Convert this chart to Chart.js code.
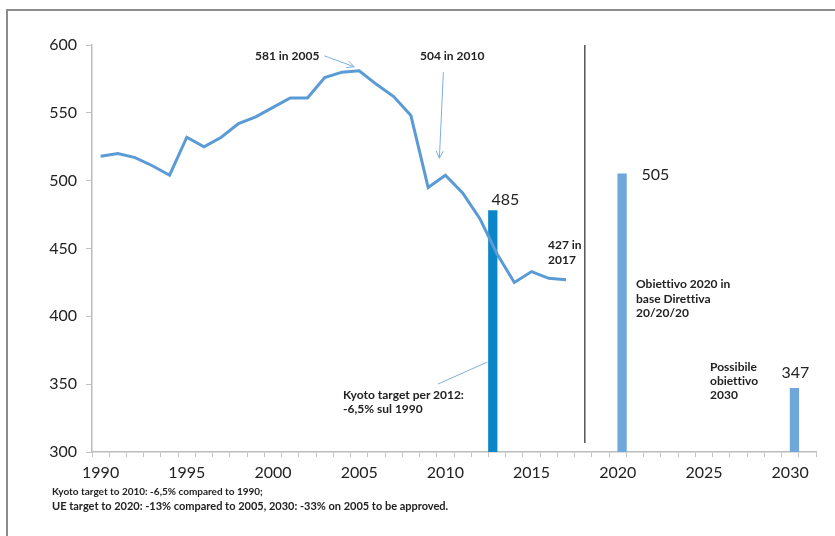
<!DOCTYPE html>
<html>
<head>
<meta charset="utf-8">
<script src="https://cdn.jsdelivr.net/npm/chart.js@4.4.0/dist/chart.umd.min.js"></script>
<style>
  body { margin: 0; background: #fff; }
  #wrap { position: relative; width: 835px; height: 536px; overflow: hidden; font-family: Lato, sans-serif; font-variant-ligatures: none; }
  #frame { position: absolute; left: 6px; top: 9px; width: 900px; height: 600px; border-left: 2px solid #8c8c8c; border-top: 2px solid #8c8c8c; }
  canvas { position: absolute; left: 0; top: 0; }
  .note { position: absolute; font-size: 12px; font-weight: 700; color: #222; line-height: 14.5px; white-space: nowrap; }
  .val { position: absolute; font-size: 16px; color: #222; line-height: 18px; white-space: nowrap; }
  #foot { position: absolute; left: 52px; top: 485px; font-size: 10px; font-weight: 700; color: #222; line-height: 13.7px; white-space: nowrap; }
  #foot span { font-size: 11px; }
</style>
</head>
<body>
<div id="wrap">
  <div id="frame"></div>
  <canvas id="chart" width="835" height="536"></canvas>
  <div class="note" style="left:255px;top:49px">581 in 2005</div>
  <div class="note" style="left:420px;top:49px">504 in 2010</div>
  <div class="note" style="left:548px;top:238px">427 in<br>2017</div>
  <div class="note" style="left:636px;top:277px">Obiettivo 2020 in<br>base Direttiva<br>20/20/20</div>
  <div class="note" style="left:710px;top:360px;line-height:14.2px">Possibile<br>obiettivo<br>2030</div>
  <div class="note" style="left:343px;top:388px;line-height:13.5px">Kyoto target per 2012:<br>-6,5% sul 1990</div>
  <div class="val" id="lab0"></div>
  <div class="val" id="lab1"></div>
  <div class="val" id="lab2"></div>
  <div id="foot">Kyoto target to 2010: -6,5% compared to 1990;<br><span>UE target to 2020: -13% compared to 2005, 2030: -33% on 2005 to be approved.</span></div>
</div>
<script>
// categories (one per year, labels shown every 5 years)
const years = ['1990', '1991', '1992', '1993', '1994', '1995', '1996', '1997', '1998', '1999',
               '2000', '2001', '2002', '2003', '2004', '2005', '2006', '2007', '2008', '2009',
               '2010', '2011', '2012', '2013', '2014', '2015', '2016', '2017', '2018', '2019',
               '2020', '2021', '2022', '2023', '2024', '2025', '2026', '2027', '2028', '2029',
               '2030', '2031'];
const shownYears = ['1990', '1995', '2000', '2005', '2010', '2015', '2020', '2025', '2030'];

// emissions 1990-2017
const emissions = [518, 520, 517, 511, 504, 532, 525, 532, 542, 547,
                   554, 561, 561, 576, 580, 581, 571, 562, 548, 495,
                   504, 491, 472, 446, 425, 433, 428, 427];

// Kyoto target bar
const kyotoYears = ['2013'];
const kyotoValues = [478];
const kyotoLabels = ['485'];

// 2020 / 2030 target bars
const goalYears = ['2020', '2030'];
const goalValues = [505, 347];
const goalLabels = ['505', '347'];

const yTicks = [300, 350, 400, 450, 500, 550, 600];

function arrow(ctx, x1, y1, x2, y2, head) {
    ctx.beginPath();
    ctx.moveTo(x1, y1);
    ctx.lineTo(x2, y2);
    ctx.stroke();
    if (head) {
        const a = Math.atan2(y2 - y1, x2 - x1);
        ctx.beginPath();
        ctx.moveTo(x2 - 8 * Math.cos(a - 0.45), y2 - 8 * Math.sin(a - 0.45));
        ctx.lineTo(x2, y2);
        ctx.lineTo(x2 - 8 * Math.cos(a + 0.45), y2 - 8 * Math.sin(a + 0.45));
        ctx.stroke();
    }
}

const extras = {
    id: 'extras',
    afterDatasetsDraw(chart) {
        const ctx = chart.ctx;
        const xs = chart.scales.x, ys = chart.scales.y;
        const area = chart.chartArea;

        // divider between history and targets
        const xd = xs.getPixelForValue(years.indexOf('2018')) + 1.5;
        ctx.save();
        ctx.strokeStyle = '#555';
        ctx.lineWidth = 1.5;
        ctx.beginPath();
        ctx.moveTo(xd, area.top);
        ctx.lineTo(xd, area.bottom - 9);
        ctx.stroke();

        // callout arrows
        ctx.strokeStyle = '#7eb0de';
        ctx.lineWidth = 1;
        const p05 = [xs.getPixelForValue(years.indexOf('2005')), ys.getPixelForValue(581)];
        arrow(ctx, p05[0] - 35, p05[1] - 15, p05[0] - 5, p05[1] - 4, true);
        const p10 = [xs.getPixelForValue(years.indexOf('2010')), ys.getPixelForValue(504)];
        arrow(ctx, p10[0] - 2, 72, p10[0] - 6, p10[1] - 17, true);

        const kb = chart.getDatasetMeta(1).data[0];
        arrow(ctx, 438, 384, kb.x - kb.width / 2 - 1, 362, false);
        ctx.restore();
    },
    afterRender(chart) {
        const bars = chart.getDatasetMeta(1).data.concat(chart.getDatasetMeta(2).data);
        const texts = kyotoLabels.concat(goalLabels);
        bars.forEach(function(b, i) {
            const el = document.getElementById('lab' + i);
            el.textContent = texts[i];
            if (i === 0) {
                el.style.left = (b.x - b.width / 2 + 3) + 'px';
                el.style.top = (b.y - 12 - 9) + 'px';
            } else if (i === 1) {
                el.style.left = (b.x + b.width / 2 + 15) + 'px';
                el.style.top = (b.y - 9) + 'px';
            } else {
                el.style.left = (b.x - 13) + 'px';
                el.style.top = (b.y - 16 - 9) + 'px';
            }
        });
    }
};

const tickFont = { family: 'Lato', size: 16 };

new Chart(document.getElementById('chart'), {
    type: 'bar',
    data: {
        labels: years,
        datasets: [{
            type: 'line',
            label: 'Emissioni',
            data: emissions,
            borderColor: '#5b9bd5',
            borderWidth: 3,
            pointRadius: 0,
            tension: 0,
            order: 0
        }, {
            label: 'Kyoto',
            data: kyotoYears.map((y, i) => ({ x: y, y: kyotoValues[i] })),
            backgroundColor: '#0a86c9',
            categoryPercentage: 1,
            barPercentage: 1,
            order: 1
        }, {
            label: 'Obiettivi',
            data: goalYears.map((y, i) => ({ x: y, y: goalValues[i] })),
            backgroundColor: '#6fa7dc',
            categoryPercentage: 1,
            barPercentage: 1,
            order: 1
        }]
    },
    options: {
        responsive: false,
        animation: false,
        layout: { padding: { left: 0, top: 45, right: 19, bottom: 50 } },
        plugins: {
            legend: { display: false },
            tooltip: { enabled: false }
        },
        scales: {
            x: {
                offset: true,
                grid: { offset: true, drawOnChartArea: false, color: '#c4c4c4', tickLength: 5 },
                border: { color: '#bcbcbc', width: 1.5 },
                ticks: {
                    autoSkip: false,
                    maxRotation: 0,
                    padding: 6,
                    color: '#222',
                    font: tickFont,
                    callback: function(v, i) {
                        return shownYears.includes(years[i]) ? years[i] : '';
                    }
                },
                afterFit: function(s) { s.height = 34; }
            },
            y: {
                min: 300,
                max: 600,
                afterBuildTicks: function(s) { s.ticks = yTicks.map(v => ({ value: v })); },
                grid: { drawOnChartArea: false, color: '#c4c4c4', tickLength: 6 },
                border: { color: '#bcbcbc', width: 1.5 },
                ticks: { padding: 9, color: '#222', font: tickFont },
                afterFit: function(s) { s.width = 92; }
            }
        }
    },
    plugins: [extras]
});
</script>
</body>
</html>
